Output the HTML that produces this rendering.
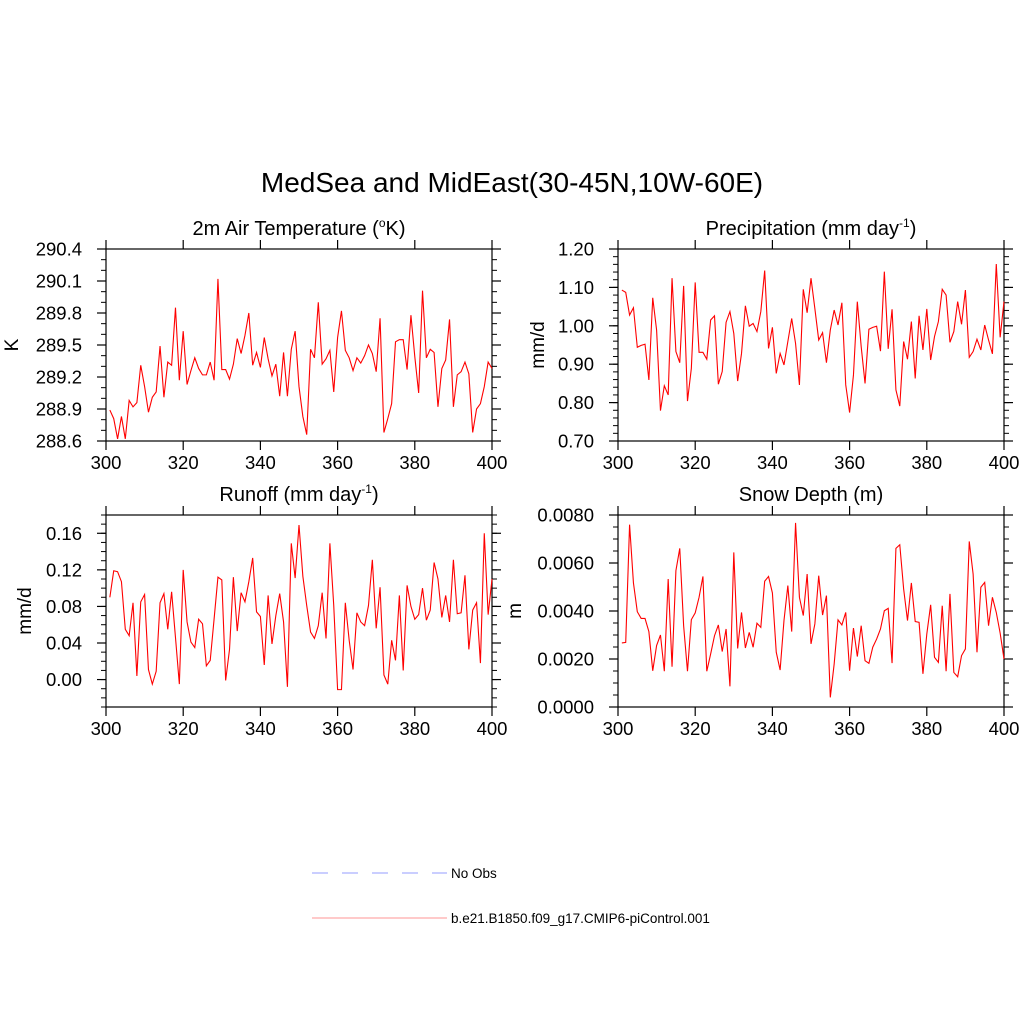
<!DOCTYPE html>
<html><head><meta charset="utf-8"><style>
body{margin:0;background:#fff;}
svg text{font-family:"Liberation Sans",sans-serif;fill:#000;}
</style></head><body>
<svg id="chart" xmlns="http://www.w3.org/2000/svg" width="1024" height="1024" viewBox="0 0 1024 1024">
<rect width="1024" height="1024" fill="#fff"/>
<text x="512" y="192" font-size="28" text-anchor="middle">MedSea and MidEast(30-45N,10W-60E)</text>
<g id="panels"></g>
<g>
<line x1="312" y1="873" x2="447" y2="873" stroke="#aab0ff" stroke-width="1.3" stroke-dasharray="16,14"/>
<text x="451" y="878" font-size="13.5">No Obs</text>
<line x1="312" y1="918" x2="447" y2="918" stroke="#ffaaaa" stroke-width="1.3"/>
<text x="451" y="923" font-size="13.5">b.e21.B1850.f09_g17.CMIP6-piControl.001</text>
</g>
</svg>
<script>
const years = Array.from({length:100},(_,i)=>301+i);
const xTicks = [300,320,340,360,380,400];
const tempVals = [288.89,288.81,288.62,288.83,288.62,288.98,288.92,288.96,289.31,289.11,288.87,289.01,289.06,289.49,289.01,289.34,289.31,289.85,289.17,289.63,289.13,289.26,289.38,289.28,289.22,289.22,289.34,289.17,290.12,289.27,289.27,289.18,289.32,289.56,289.42,289.59,289.80,289.31,289.43,289.29,289.57,289.37,289.21,289.32,289.02,289.43,289.02,289.46,289.63,289.11,288.83,288.66,289.46,289.38,289.90,289.32,289.37,289.45,289.06,289.57,289.82,289.45,289.38,289.26,289.38,289.33,289.40,289.50,289.42,289.25,289.75,288.68,288.81,288.95,289.53,289.55,289.55,289.27,289.78,289.39,289.05,290.01,289.38,289.46,289.43,288.92,289.28,289.36,289.74,288.92,289.22,289.25,289.34,289.23,288.68,288.90,288.95,289.11,289.34,289.28];
const precVals = [1.093,1.087,1.028,1.047,0.944,0.949,0.952,0.859,1.073,0.989,0.779,0.844,0.820,1.124,0.933,0.904,1.104,0.804,0.889,1.113,0.931,0.931,0.913,1.015,1.026,0.848,0.881,1.009,1.037,0.980,0.856,0.928,1.052,0.999,1.006,0.985,1.037,1.144,0.941,0.996,0.876,0.928,0.898,0.959,1.019,0.954,0.846,1.095,1.034,1.124,1.045,0.963,0.982,0.904,0.989,1.041,1.002,1.060,0.846,0.774,0.872,1.063,0.946,0.850,0.991,0.996,0.999,0.934,1.141,0.940,1.043,0.833,0.791,0.959,0.913,1.011,0.863,1.026,0.937,1.044,0.911,0.972,1.011,1.095,1.080,0.957,0.985,1.063,1.004,1.093,0.918,0.933,0.965,0.937,1.002,0.963,0.927,1.161,0.970,1.063];
const runoffVals = [0.090,0.119,0.118,0.107,0.055,0.048,0.084,0.004,0.085,0.093,0.011,-0.005,0.009,0.084,0.094,0.055,0.096,0.046,-0.005,0.120,0.063,0.041,0.035,0.066,0.061,0.015,0.021,0.066,0.112,0.109,-0.001,0.033,0.112,0.053,0.095,0.085,0.107,0.133,0.074,0.069,0.016,0.092,0.039,0.070,0.094,0.063,-0.008,0.149,0.111,0.169,0.113,0.081,0.052,0.045,0.059,0.095,0.045,0.149,0.081,-0.011,-0.011,0.084,0.043,0.011,0.073,0.063,0.059,0.081,0.131,0.056,0.101,0.005,-0.005,0.043,0.021,0.092,0.010,0.103,0.080,0.066,0.071,0.100,0.065,0.076,0.128,0.110,0.068,0.092,0.063,0.131,0.072,0.073,0.114,0.033,0.076,0.084,0.018,0.160,0.071,0.110];
const snowVals = [0.00267,0.00269,0.00760,0.00517,0.00397,0.00369,0.00369,0.00314,0.00151,0.00256,0.00300,0.00149,0.00533,0.00168,0.00568,0.00661,0.00339,0.00149,0.00364,0.00392,0.00457,0.00544,0.00149,0.00221,0.00297,0.00342,0.00231,0.00325,0.00086,0.00644,0.00244,0.00394,0.00246,0.00311,0.00249,0.00349,0.00332,0.00524,0.00544,0.00475,0.00228,0.00154,0.00360,0.00506,0.00314,0.00767,0.00457,0.00381,0.00554,0.00263,0.00346,0.00547,0.00383,0.00464,0.00040,0.00179,0.00363,0.00342,0.00394,0.00151,0.00329,0.00210,0.00339,0.00193,0.00182,0.00249,0.00283,0.00325,0.00401,0.00411,0.00183,0.00661,0.00676,0.00492,0.00360,0.00517,0.00356,0.00353,0.00138,0.00304,0.00426,0.00207,0.00186,0.00422,0.00149,0.00471,0.00144,0.00126,0.00214,0.00242,0.00690,0.00554,0.00228,0.00499,0.00519,0.00339,0.00457,0.00394,0.00308,0.00200];
const tempTicks = ["288.6","288.9","289.2","289.5","289.8","290.1","290.4"];
const precTicks = ["0.70","0.80","0.90","1.00","1.10","1.20"];
const runoffTicks = ["0.00","0.04","0.08","0.12","0.16"];
const snowTicks = ["0.0000","0.0020","0.0040","0.0060","0.0080"];

const NS="http://www.w3.org/2000/svg";
const root=document.getElementById('panels');
function mk(tag,attrs,parent){const e=document.createElementNS(NS,tag);for(const k in attrs)e.setAttribute(k,attrs[k]);parent.appendChild(e);return e;}

const panels=[
 {key:'temp',x0:106,x1:492,y0:249,y1:441,ymin:288.6,ymax:290.4,ticks:tempTicks,minor:0.1,vals:tempVals,title:'2m Air Temperature (<tspan font-size="12" dy="-8">o</tspan><tspan dy="8">K)</tspan>',ylab:'K',ylx:12},
 {key:'prec',x0:618,x1:1004,y0:249,y1:441,ymin:0.70,ymax:1.20,ticks:precTicks,minor:0.02,vals:precVals,title:'Precipitation (mm day<tspan font-size="12" dy="-8">-1</tspan><tspan dy="8">)</tspan>',ylab:'mm/d',ylx:538},
 {key:'runoff',x0:106,x1:492,y0:515,y1:707,ymin:-0.03,ymax:0.18,ticks:runoffTicks,minor:0.01,vals:runoffVals,title:'Runoff (mm day<tspan font-size="12" dy="-8">-1</tspan><tspan dy="8">)</tspan>',ylab:'mm/d',ylx:25},
 {key:'snow',x0:618,x1:1004,y0:515,y1:707,ymin:0,ymax:0.008,ticks:snowTicks,minor:0.0005,vals:snowVals,title:'Snow Depth (m)',ylab:'m',ylx:515}
];

panels.forEach(p=>{
 const g=mk('g',{},root);
 
 
 const xs=v=>p.x0+(v-300)/100*(p.x1-p.x0);
 const ys=v=>p.y1-(v-p.ymin)/(p.ymax-p.ymin)*(p.y1-p.y0);
 const start=Math.ceil((p.ymin-1e-9)/p.minor);
 for(let k=start;k*p.minor<=p.ymax+1e-9;k++){
  const y=ys(k*p.minor);
  mk('line',{x1:p.x0-5,x2:p.x0,y1:y,y2:y,stroke:'#000','stroke-width':1},g);
  mk('line',{x1:p.x1,x2:p.x1+5,y1:y,y2:y,stroke:'#000','stroke-width':1},g);
 }
 p.ticks.forEach(t=>{
  const y=ys(parseFloat(t));
  mk('line',{x1:p.x0-9,x2:p.x0,y1:y,y2:y,stroke:'#000','stroke-width':1.2},g);
  mk('line',{x1:p.x1,x2:p.x1+9,y1:y,y2:y,stroke:'#000','stroke-width':1.2},g);
  const tx=mk('text',{x:p.x0-24,y:y+6.5,'font-size':18.5,'text-anchor':'end'},g);
  
  
  tx.textContent=t;
 });
 xTicks.forEach(t=>{
  const x=xs(t);
  mk('line',{x1:x,x2:x,y1:p.y1,y2:p.y1+9,stroke:'#000','stroke-width':1.2},g);
  mk('line',{x1:x,x2:x,y1:p.y0-9,y2:p.y0,stroke:'#000','stroke-width':1.2},g);
  const tx=mk('text',{x:x,y:p.y1+28,'font-size':18.5,'text-anchor':'middle'},g);
  
  
  tx.textContent=t;
 });
 const box=mk('rect',{x:p.x0,y:p.y0,width:p.x1-p.x0,height:p.y1-p.y0,fill:'none',stroke:'#000','stroke-width':1.2},g);
 
 
 const d=p.vals.map((v,i)=>(i?'L':'M')+xs(years[i]).toFixed(2)+','+ys(v).toFixed(2)).join(' ');
 const path=mk('path',{d:d,fill:'none',stroke:'#ff0000','stroke-width':1.1},g);
 
 
 const ti=mk('text',{x:(p.x0+p.x1)/2,y:p.y0-14,'font-size':20,'text-anchor':'middle'},g);
 
 
 ti.innerHTML=p.title;
 const yl=mk('text',{x:0,y:0,'font-size':19,'text-anchor':'middle',transform:'translate('+(p.ylx+6)+','+((p.y0+p.y1)/2)+') rotate(-90)'},g);
 
 
 yl.textContent=p.ylab;
});
</script>
</body></html>
